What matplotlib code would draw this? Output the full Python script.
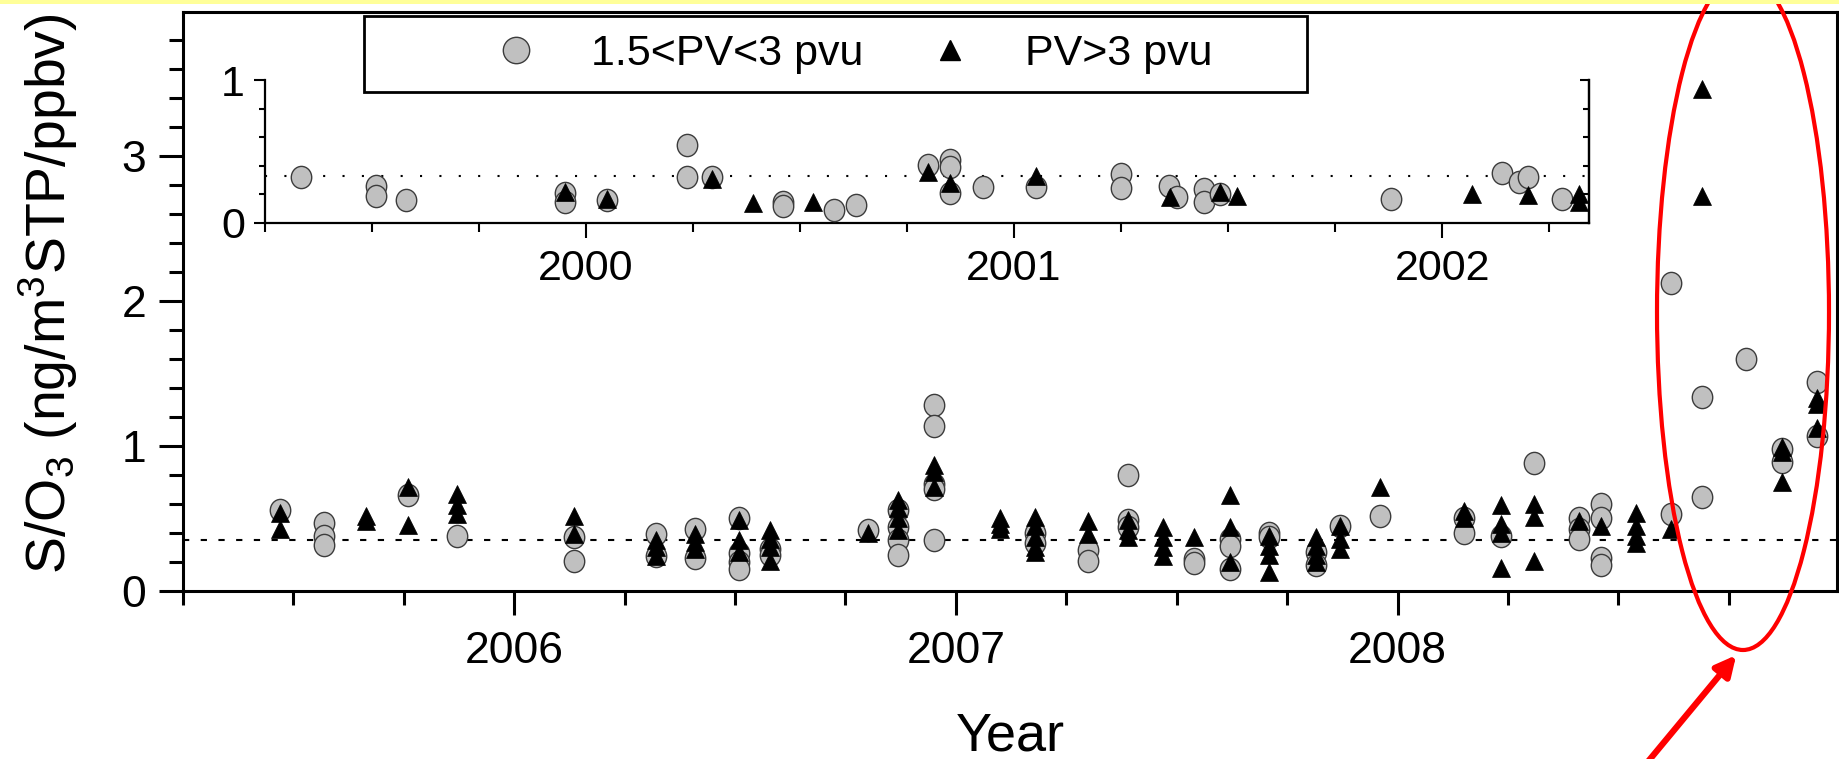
import matplotlib
matplotlib.use('Agg')
import matplotlib.pyplot as plt
from matplotlib import ticker, patches
from matplotlib.path import Path
from matplotlib.transforms import Affine2D
from matplotlib.lines import Line2D

plt.rcParams['font.family'] = ['Liberation Sans', 'DejaVu Sans']
plt.rcParams['mathtext.fontset'] = 'custom'
plt.rcParams['mathtext.rm'] = 'Liberation Sans'
plt.rcParams['mathtext.it'] = 'Liberation Sans:italic'
plt.rcParams['mathtext.bf'] = 'Liberation Sans:bold'

# ---- main panel 2005-2009 (decimal year -> S/O3 values at that date) ----
mid_pv_dates = [2005.47, 2005.57, 2005.76, 2005.87, 2006.135, 2006.32, 2006.41,
                2006.51, 2006.58, 2006.80, 2006.87, 2006.95, 2007.18, 2007.30,
                2007.39, 2007.54, 2007.62, 2007.71, 2007.815, 2007.87, 2007.96,
                2008.15, 2008.235, 2008.31, 2008.41, 2008.46, 2008.62, 2008.69,
                2008.79, 2008.87, 2008.95]
mid_pv_values = [[0.56], [0.47, 0.38, 0.32], [0.66], [0.38], [0.37, 0.21],
                 [0.39, 0.24], [0.43, 0.23], [0.50, 0.26, 0.20, 0.15], [0.29, 0.25],
                 [0.42], [0.56, 0.44, 0.35, 0.25], [1.28, 1.14, 0.74, 0.70, 0.35],
                 [0.40, 0.33], [0.28, 0.21], [0.80, 0.49, 0.44], [0.22, 0.19],
                 [0.36, 0.31, 0.15], [0.40, 0.37], [0.27, 0.18], [0.45], [0.52],
                 [0.50, 0.40], [0.38], [0.88], [0.50, 0.43, 0.36],
                 [0.60, 0.50, 0.23, 0.18], [2.12, 0.53], [1.34, 0.65], [1.60],
                 [0.98, 0.89], [1.44, 1.07]]

high_pv_dates = [2005.47, 2005.665, 2005.76, 2005.87, 2006.135, 2006.32, 2006.41,
                 2006.51, 2006.58, 2006.80, 2006.87, 2006.95, 2007.10, 2007.18,
                 2007.30, 2007.39, 2007.47, 2007.54, 2007.62, 2007.71, 2007.815,
                 2007.87, 2007.96, 2008.15, 2008.235, 2008.31, 2008.41, 2008.46,
                 2008.54, 2008.62, 2008.69, 2008.87, 2008.95]
high_pv_values = [[0.54, 0.43], [0.52, 0.48], [0.72, 0.455], [0.67, 0.59, 0.53],
                  [0.52, 0.39], [0.35, 0.30, 0.24], [0.39, 0.34, 0.29],
                  [0.49, 0.35, 0.27], [0.42, 0.36, 0.30, 0.21], [0.40],
                  [0.63, 0.57, 0.50, 0.42], [0.87, 0.82, 0.72], [0.50, 0.46, 0.43],
                  [0.51, 0.445, 0.37, 0.30, 0.27], [0.48, 0.39], [0.49, 0.42, 0.37],
                  [0.44, 0.37, 0.30, 0.24], [0.37], [0.66, 0.44, 0.20],
                  [0.38, 0.31, 0.25, 0.13], [0.37, 0.31, 0.25, 0.20],
                  [0.45, 0.36, 0.29], [0.72], [0.55, 0.50], [0.59, 0.46, 0.40, 0.16],
                  [0.60, 0.51, 0.21], [0.48], [0.45], [0.54, 0.45, 0.38, 0.33],
                  [0.43], [3.46, 2.72], [0.99, 0.96, 0.75], [1.33, 1.29, 1.12]]

# ---- inset 1999-2002 ----
old_mid_pv_dates = [1999.334, 1999.51, 1999.58, 1999.95, 2000.05, 2000.237, 2000.295,
                    2000.46, 2000.58, 2000.63, 2000.80, 2000.85, 2000.927, 2001.05,
                    2001.25, 2001.363, 2001.38, 2001.443, 2001.48, 2001.88, 2002.14,
                    2002.18, 2002.20, 2002.28]
old_mid_pv_values = [[0.32], [0.256, 0.186], [0.158], [0.21, 0.144], [0.158],
                     [0.545, 0.324], [0.324], [0.15, 0.12], [0.09], [0.126], [0.405],
                     [0.44, 0.39, 0.21], [0.254], [0.254], [0.343, 0.242], [0.26],
                     [0.18], [0.24, 0.144], [0.20], [0.17], [0.353], [0.29], [0.32],
                     [0.17]]

old_high_pv_dates = [1999.95, 2000.05, 2000.295, 2000.39, 2000.53, 2000.80, 2000.85,
                     2001.05, 2001.365, 2001.48, 2001.52, 2002.07, 2002.20, 2002.32]
old_high_pv_values = [[0.22], [0.167], [0.31], [0.14], [0.15], [0.36], [0.28], [0.33],
                      [0.18], [0.214], [0.19], [0.20], [0.195], [0.20, 0.144]]

main_ref_level = 0.35
inset_ref_level = 0.33

legend_labels = ['1.5<PV<3 pvu', 'PV>3 pvu']


def flatten(dates, values):
    xs, ys = [], []
    for d, vals in zip(dates, values):
        for v in vals:
            xs.append(d)
            ys.append(v)
    return xs, ys


W, H = 1839, 759
fig = plt.figure(figsize=(W / 100, H / 100), dpi=100)

circle_face = '#c0c0c0'
circle_edge = '#3c3c3c'
ell = Path.unit_circle().transformed(Affine2D().scale(0.92, 1.0))

# main axes
ax = fig.add_axes([183 / W, 1 - 591 / H, (1837 - 183) / W, (591 - 12) / H])
ax.set_xlim(2005.25, 2008.995)
ax.set_ylim(0, 3.99)

x, y = flatten(mid_pv_dates, mid_pv_values)
ax.plot(x, y, ls='none', marker=ell, ms=16, mfc=circle_face, mec=circle_edge, mew=1.0, zorder=3)
x, y = flatten(high_pv_dates, high_pv_values)
ax.plot(x, y, ls='none', marker='^', ms=13.5, mfc='black', mec='black', mew=0.5, zorder=4)
ax.axhline(main_ref_level, color='black', lw=1.5, ls=(0, (3, 5.5)), zorder=2)

ax.xaxis.set_major_locator(ticker.MultipleLocator(1))
ax.xaxis.set_minor_locator(ticker.MultipleLocator(0.25))
ax.xaxis.set_major_formatter(ticker.FormatStrFormatter('%d'))
ax.yaxis.set_major_locator(ticker.MultipleLocator(1))
ax.yaxis.set_minor_locator(ticker.MultipleLocator(0.2))
ax.tick_params(which='major', direction='out', length=17, width=2.2, labelsize=32)
ax.tick_params(which='minor', direction='out', length=10, width=2.2)
ax.tick_params(axis='x', pad=12)
ax.tick_params(axis='y', pad=9.5)
for s in ax.spines.values():
    s.set_linewidth(2.2)

ax.set_xlabel('Year', fontsize=39)
ax.xaxis.set_label_coords(0.5, -0.208)
ax.set_ylabel('S/O$_3$ (ng/m$^3$STP/ppbv)', fontsize=40)
ax.yaxis.set_label_coords(-0.062, 0.514)

# inset axes
ax_in = fig.add_axes([265 / W, 1 - 223 / H, (1589 - 265) / W, 143 / H])
ax_in.set_facecolor('none')
ax_in.set_zorder(1)
ax_in.set_xlim(1999.25, 2002.343)
ax_in.set_ylim(0, 1)

x, y = flatten(old_mid_pv_dates, old_mid_pv_values)
ax_in.plot(x, y, ls='none', marker=ell, ms=16, mfc=circle_face, mec=circle_edge, mew=1.0,
           zorder=3, clip_on=False)
x, y = flatten(old_high_pv_dates, old_high_pv_values)
ax_in.plot(x, y, ls='none', marker='^', ms=13, mfc='black', mec='black', mew=0.5,
           zorder=4, clip_on=False)
ax_in.axhline(inset_ref_level, color='black', lw=1.5, ls=(0, (1, 8.3)), zorder=2)

ax_in.spines['top'].set_visible(False)
for s in ('left', 'bottom', 'right'):
    ax_in.spines[s].set_linewidth(1.6)
ax_in.xaxis.set_major_locator(ticker.MultipleLocator(1))
ax_in.xaxis.set_minor_locator(ticker.MultipleLocator(0.25))
ax_in.xaxis.set_major_formatter(ticker.FormatStrFormatter('%d'))
ax_in.yaxis.set_major_locator(ticker.MultipleLocator(1))
ax_in.yaxis.set_minor_locator(ticker.MultipleLocator(0.2))
ax_in.yaxis.set_major_formatter(ticker.FormatStrFormatter('%d'))
ax_in.tick_params(axis='x', which='major', direction='out', length=11, width=1.5, pad=8, labelsize=31)
ax_in.tick_params(axis='x', which='minor', direction='out', length=6.5, width=1.5)
ax_in.tick_params(axis='y', which='major', direction='out', length=8, width=1.5, pad=6.5, labelsize=31)
ax_in.tick_params(axis='y', which='minor', direction='out', length=4, width=1.5)

sec = ax_in.secondary_yaxis('right')
sec.yaxis.set_major_locator(ticker.MultipleLocator(1))
sec.yaxis.set_minor_locator(ticker.MultipleLocator(0.2))
sec.yaxis.set_major_formatter(ticker.NullFormatter())
sec.tick_params(which='major', direction='in', length=6.5, width=1.5)
sec.tick_params(which='minor', direction='in', length=4, width=1.5)
sec.spines['right'].set_linewidth(1.6)

# legend in a box
frame = patches.Rectangle((364 / W, 1 - 92 / H), 943 / W, 76 / H, transform=fig.transFigure,
                          facecolor='white', edgecolor='black', lw=2, zorder=4.5)
fig.add_artist(frame)
handles = [Line2D([], [], ls='none', marker='o', ms=19, mfc=circle_face, mec=circle_edge, mew=1.0),
           Line2D([], [], ls='none', marker='^', ms=15, mfc='black', mec='black')]
fig.legend(handles, legend_labels, loc='center left', bbox_to_anchor=(494.5 / W, 1 - 54 / H),
           bbox_transform=fig.transFigure, ncol=2, frameon=False, fontsize=31,
           handlelength=1.0, handletextpad=1.24, columnspacing=1.52,
           borderpad=0, borderaxespad=0)

# red highlight ellipse and arrow
fig.add_artist(patches.Ellipse((1743 / W, 1 - 312 / H), 172 / W, 676 / H,
                               transform=fig.transFigure, fill=False, edgecolor='red',
                               lw=3, zorder=10))
fig.add_artist(patches.FancyArrowPatch((1646 / W, 1 - 764 / H), (1738 / W, 1 - 653 / H),
                                       transform=fig.transFigure, arrowstyle='-|>',
                                       mutation_scale=30, color='red', lw=4.5, zorder=10))

# pale yellow strip along the top edge
fig.add_artist(patches.Rectangle((0, 1 - 4 / H), 1, 4 / H, transform=fig.transFigure,
                                 facecolor='#ffff99', edgecolor='none', zorder=11))

fig.savefig('out.png', dpi=100)
